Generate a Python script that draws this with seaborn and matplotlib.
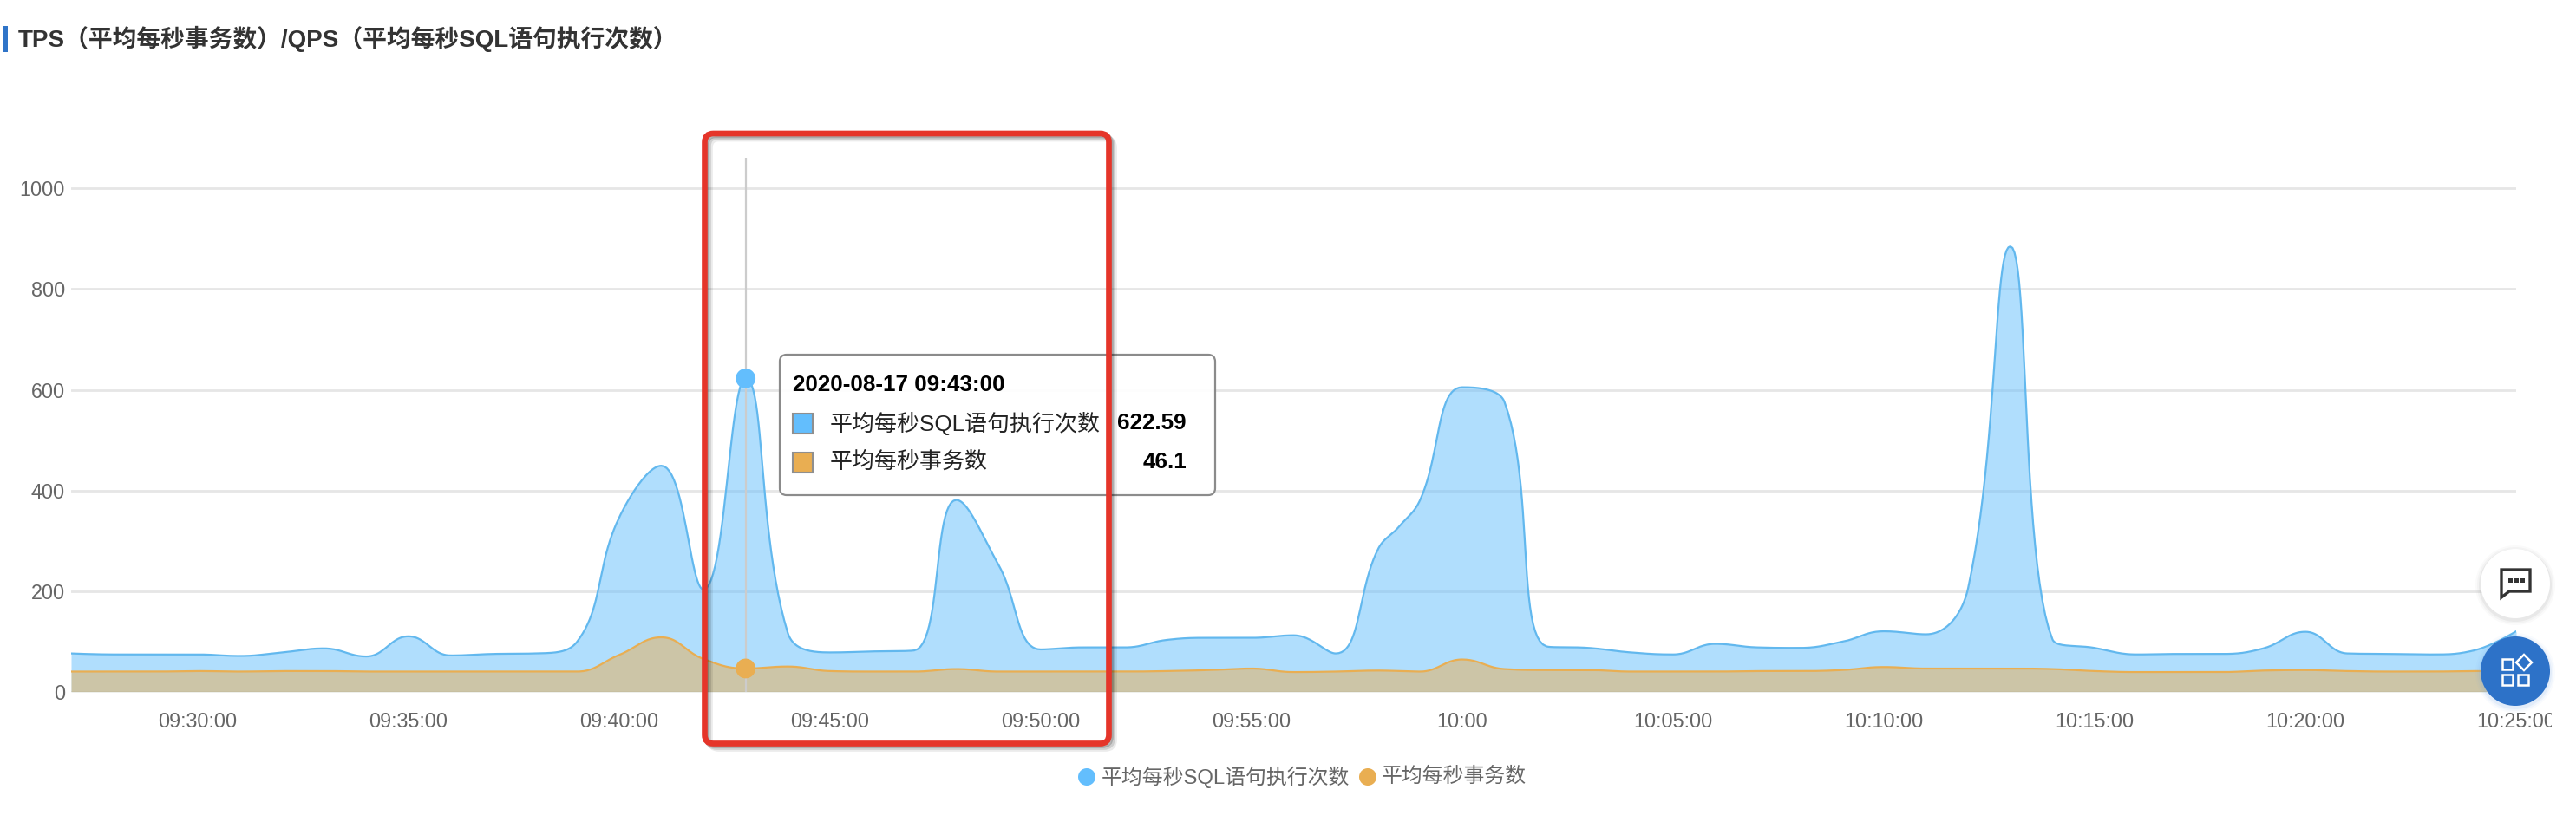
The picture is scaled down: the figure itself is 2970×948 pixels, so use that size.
from __future__ import annotations

import matplotlib

matplotlib.use("Agg")

import matplotlib.pyplot as plt
import numpy as np
import pandas as pd
import seaborn as sns
from matplotlib.patches import Circle, FancyBboxPatch, Polygon, Rectangle


# one sample per minute from 09:27, plus the knee at 09:58:30
minutes = [*range(32), 31.5, *range(32, 59)]
qps = [76, 74, 74, 74, 71, 78, 86, 70, 110, 72,
       75, 76, 99, 346, 449, 203, 622.59, 117, 78, 80,
       82, 381, 252, 84, 88, 88, 103, 107, 107, 112,
       76, 283, 328, 381, 605, 576, 90, 87, 78, 74,
       95, 88, 87, 99, 120, 114, 206, 885, 104, 87,
       74, 75, 75, 86, 119, 76, 75, 74, 82, 120]
tps = [40, 40, 40, 41, 40, 41, 41, 40, 40, 40,
       40, 40, 40, 73, 108, 65, 46.1, 50, 41, 40,
       40, 45, 40, 40, 40, 40, 41, 43, 46, 39,
       40, 42, 41, 40, 64, 45, 43, 43, 40, 40,
       40, 41, 41, 43, 49, 46, 46, 46, 45, 41,
       39, 39, 39, 42, 43, 41, 40, 40, 41, 40]
y_ticks = [0, 200, 400, 600, 800, 1000]
x_tick_minutes = [3, 8, 13, 18, 23, 28, 33, 38, 43, 48, 53, 58]
x_tick_labels = ["09:30:00", "09:35:00", "09:40:00", "09:45:00", "09:50:00", "09:55:00",
                 "10:00", "10:05:00", "10:10:00", "10:15:00", "10:20:00", "10:25:00"]
qps_name = "平均每秒SQL语句执行次数"
tps_name = "平均每秒事务数"
hover_minute = 16
hover_time = "2020-08-17 09:43:00"
hover_qps = "622.59"
hover_tps = "46.1"

QPS_COLOR = "#63BEFD"
QPS_LINE = "#62B8EE"
TPS_COLOR = "#E9AE52"
TEXT_GREY = "#666666"
W, H = 2970, 948
PX_PER_MIN = 48.6
PX_PER_UNIT = 0.58


def smooth(x, y, ratio=0.42, per_step=24):
    """Bezier through the samples, built the way the web chart smooths its lines."""
    pts = np.column_stack([np.asarray(x, float) * PX_PER_MIN, np.asarray(y, float) * PX_PER_UNIT])
    n = len(pts)
    out_cp = pts.copy()
    in_cp = pts.copy()
    for i in range(1, n - 1):
        prev, cur, nxt = pts[i - 1], pts[i], pts[i + 1]
        len_prev = np.linalg.norm(cur - prev)
        len_next = np.linalg.norm(nxt - cur)
        share = len_next / (len_next + len_prev)
        cp_next = np.clip(cur + (nxt - prev) * ratio * share,
                          np.minimum(cur, nxt), np.maximum(cur, nxt))
        cp_prev = np.clip(cur - (cp_next - cur) * len_prev / len_next,
                          np.minimum(prev, cur), np.maximum(prev, cur))
        cp_next = cur + (cur - cp_prev) * len_next / len_prev
        out_cp[i], in_cp[i] = cp_next, cp_prev
    t = np.linspace(0, 1, per_step, endpoint=False)[:, None]
    parts = []
    for i in range(n - 1):
        parts.append((1 - t) ** 3 * pts[i] + 3 * (1 - t) ** 2 * t * out_cp[i]
                     + 3 * (1 - t) * t**2 * in_cp[i + 1] + t**3 * pts[i + 1])
    line = np.vstack(parts + [pts[-1:]])
    return line[:, 0] / PX_PER_MIN, line[:, 1] / PX_PER_UNIT


def draw_chrome(ov):
    """Everything of the web page around the chart, in pixel coordinates."""
    # title with its blue bar
    ov.add_patch(Rectangle((3, 30), 6, 30, color="#2F74C8", lw=0))
    ov.text(21, 45, "TPS（平均每秒事务数）/QPS（平均每秒SQL语句执行次数）",
            fontsize=20, fontweight="bold", color="#333333", va="center", ha="left")

    # tooltip
    ov.add_patch(FancyBboxPatch((902, 412), 496, 156, boxstyle="round,pad=3,rounding_size=8",
                                fc="white", ec="#858585", lw=1.6, alpha=0.95, zorder=5))
    ov.text(914, 444, hover_time, fontsize=18.7, fontweight="bold", color="black",
            va="center", zorder=6)
    rows = [(488, QPS_COLOR, qps_name, hover_qps), (533, TPS_COLOR, tps_name, hover_tps)]
    for y, color, name, value in rows:
        ov.add_patch(Rectangle((914, y - 11), 23, 23, fc=color, ec="#8F8F8F", lw=1.5, zorder=6))
        ov.text(957, y, name, fontsize=18.7, color="#222222", va="center", zorder=6)
        ov.text(1368, y, value, fontsize=18.7, fontweight="bold", color="black",
                va="center", ha="right", zorder=6)

    # red highlight frame with a soft shadow
    frame = dict(boxstyle="round,pad=0,rounding_size=10", fc="none")
    for off, alpha in [(6, 0.08), (4, 0.12), (2, 0.18)]:
        ov.add_patch(FancyBboxPatch((812.5 + off, 154 + off), 466, 703.5, ec="black", lw=4.8,
                                    alpha=alpha, zorder=7, **frame))
    ov.add_patch(FancyBboxPatch((812.5, 154), 466, 703.5, ec="#E5352A", lw=4.8, zorder=8, **frame))

    # legend
    ov.add_patch(Circle((1253, 896), 10, color=QPS_COLOR, lw=0))
    ov.text(1270, 896, qps_name, fontsize=17.2, color=TEXT_GREY, va="center")
    ov.add_patch(Circle((1577, 896), 10, color=TPS_COLOR, lw=0))
    ov.text(1593, 896, tps_name, fontsize=17.2, color=TEXT_GREY, va="center")

    # floating buttons
    for cx, cy, color in [(2900, 673, "white"), (2900, 774, "#2D72C8")]:
        shadow = "#888888" if color == "white" else "#6AA5E8"
        for r, alpha in [(46, 0.04), (44, 0.06), (42, 0.1)]:
            ov.add_patch(Circle((cx, cy + 2), r, color=shadow, alpha=alpha, lw=0, zorder=9))
        ov.add_patch(Circle((cx, cy), 40, color=color, lw=0, zorder=10))

    ov.add_patch(Polygon([(2884, 657), (2917, 657), (2917, 682), (2893, 682), (2884, 689)],
                         closed=True, fc="none", ec="#333333", lw=2.4, zorder=11))
    for dx in (2892, 2899, 2906):
        ov.add_patch(Rectangle((dx, 667), 5, 5, color="#333333", lw=0, zorder=11))

    for sx, sy in [(2885, 760), (2885, 778), (2903, 778)]:
        ov.add_patch(Rectangle((sx, sy), 12, 12, fc="none", ec="white", lw=1.8, zorder=11))
    ov.add_patch(Polygon([(2910, 755), (2919, 764), (2910, 773), (2901, 764)],
                         closed=True, fc="none", ec="white", lw=1.8, zorder=11))


sns.set_theme(style="white")
plt.rcParams["font.family"] = ["Liberation Sans", "Noto Sans CJK SC", "DejaVu Sans"]

x_qps, y_qps = smooth(minutes, qps)
x_tps, y_tps = smooth(minutes, tps)
start = pd.Timestamp("2020-08-17 09:27:00")
curves = pd.concat([
    pd.DataFrame({"time": start + pd.to_timedelta(x_qps, unit="min"), "value": y_qps, "series": qps_name}),
    pd.DataFrame({"time": start + pd.to_timedelta(x_tps, unit="min"), "value": y_tps, "series": tps_name}),
], ignore_index=True)
palette = {qps_name: QPS_LINE, tps_name: TPS_COLOR}

fig = plt.figure(figsize=(W / 100, H / 100), dpi=100, facecolor="white")
ax = fig.add_axes([82 / W, 1 - 797.7 / H, (2901 - 82) / W, (797.7 - 182) / H])

sns.lineplot(data=curves, x="time", y="value", hue="series", palette=palette,
             linewidth=1.6, legend=False, estimator=None, sort=False, ax=ax, zorder=3)
for name, color in [(qps_name, QPS_COLOR), (tps_name, TPS_COLOR)]:
    part = curves[curves["series"].eq(name)]
    ax.fill_between(part["time"], 0, part["value"], color=color, alpha=0.5, lw=0, zorder=2)

hover_at = start + pd.Timedelta(minutes=hover_minute)
ax.axvline(hover_at, color="#CCCCCC", lw=1.6, zorder=4)
sns.scatterplot(x=[hover_at, hover_at], y=[622.59, 46.1], hue=[qps_name, tps_name],
                palette={qps_name: QPS_COLOR, tps_name: TPS_COLOR}, s=270, linewidth=0,
                legend=False, ax=ax, zorder=5)

ax.set_xlim(start, start + pd.Timedelta(minutes=58))
ax.set_ylim(0, 1061)
ax.set_xlabel("")
ax.set_ylabel("")
ax.set_yticks(y_ticks)
ax.set_xticks([start + pd.Timedelta(minutes=m) for m in x_tick_minutes])
ax.set_xticklabels(x_tick_labels)
ax.tick_params(axis="both", length=0, labelsize=16.8, labelcolor=TEXT_GREY)
ax.tick_params(axis="x", pad=17)
ax.tick_params(axis="y", pad=5)
ax.grid(axis="y", color="#E6E6E6", lw=2)
ax.grid(axis="x", visible=False)
ax.set_axisbelow(True)
sns.despine(ax=ax, left=True, bottom=True, top=True, right=True)

ov = fig.add_axes([0, 0, 1, 1], facecolor="none")
ov.set_xlim(0, W)
ov.set_ylim(H, 0)
ov.axis("off")
draw_chrome(ov)

# the last tick label runs off the page panel and is cut there
last = ax.get_xticklabels()[-1]
last.set_clip_path(Rectangle((0, 0), 2942, H, transform=ov.transData))
last.set_clip_on(True)

fig.savefig("out.png", dpi=100, facecolor="white")
